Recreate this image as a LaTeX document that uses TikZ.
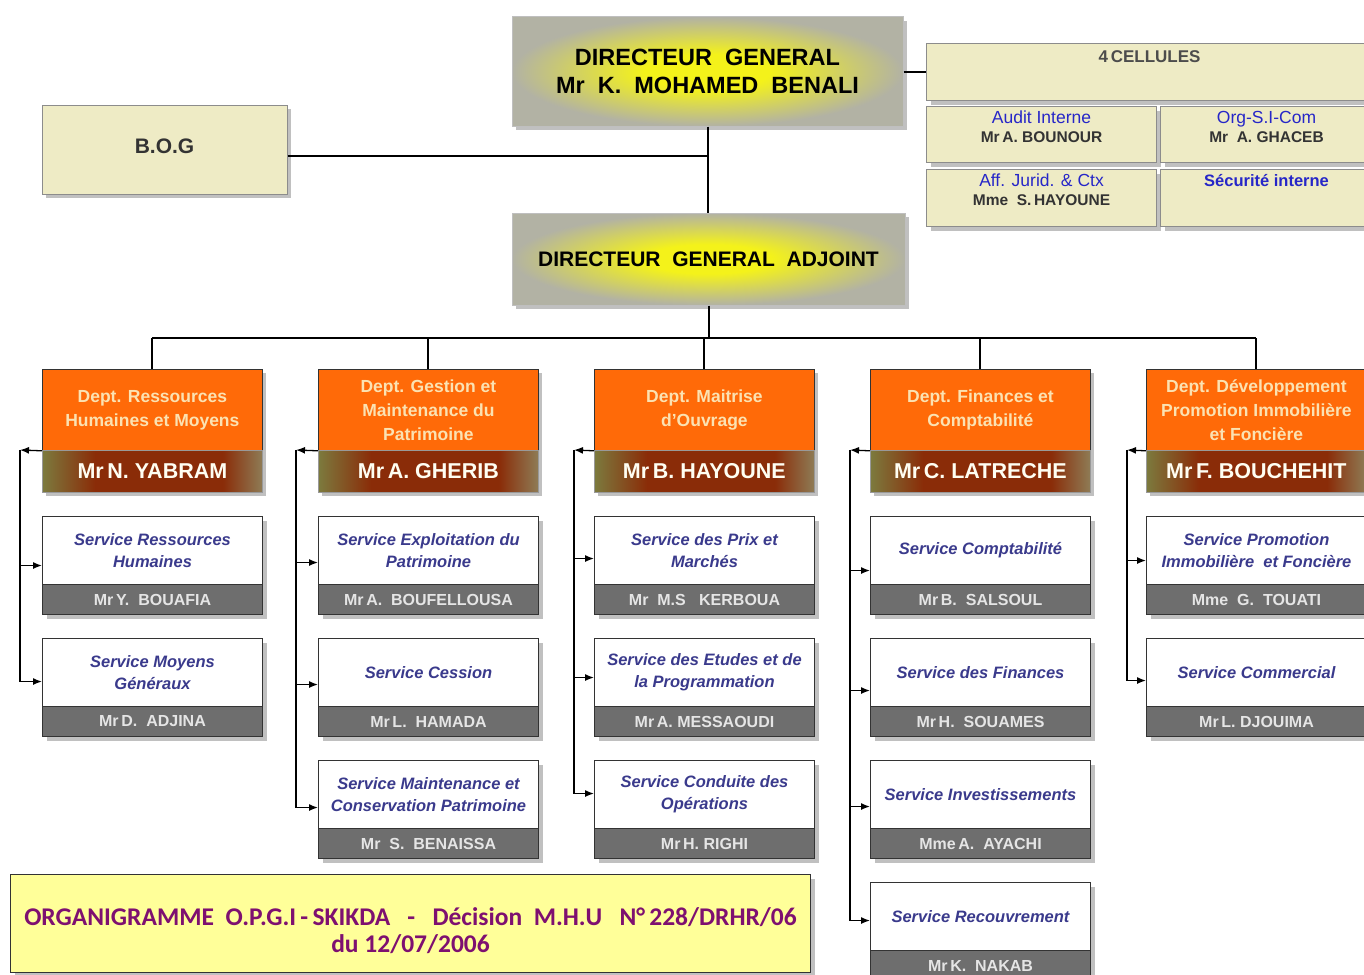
\documentclass[tikz,border=0pt]{standalone}
\usepackage{fontspec}
\setmainfont{Liberation Sans}
\newfontfamily\titlefont{Carlito}
\usetikzlibrary{shadows,arrows.meta}

\definecolor{dggray}{HTML}{B2B2A4}
\definecolor{beige}{HTML}{EEEBC5}
\definecolor{deptorange}{HTML}{FF6A08}
\definecolor{depttext}{HTML}{FBE2B2}
\definecolor{barolive}{HTML}{7C7A3E}
\definecolor{barbrown}{HTML}{8A2C08}
\definecolor{barright}{HTML}{8E7C56}
\definecolor{svcblue}{HTML}{3A3A8C}
\definecolor{svcgray}{HTML}{6E6E6E}
\definecolor{cellblue}{HTML}{2626C8}
\definecolor{titleyellow}{HTML}{FFFF99}
\definecolor{titlepurple}{HTML}{7E1070}
\definecolor{glowyellow}{HTML}{F4F21A}

% yellow glow in the middle of the management boxes
\pgfdeclareradialshading{mgmtglow}{\pgfpoint{0bp}{0bp}}{%
  color(0bp)=(glowyellow); color(8bp)=(glowyellow);
  color(25bp)=(dggray); color(50bp)=(dggray)}
% brown band with olive ends for department heads
\pgfdeclarehorizontalshading{headband}{100bp}{%
  color(0bp)=(barolive); color(25bp)=(barolive); color(37bp)=(barbrown);
  color(66bp)=(barbrown); color(75bp)=(barright); color(100bp)=(barright)}

% service box: white title part on top, grey head-of-service bar below
\newcommand\svc[5]{%
  \node[svcbox, anchor=north west] (#1) at (#2,#3) {#4};
  \node[svchead, anchor=north west] (#1h) at (#2,#3+68) {#5};
}
% feed arrow from a column's vertical line to a service box
\newcommand\feed[3]{\draw[feed] (#1) |- ([yshift=-#3pt]#2.west);}

\begin{document}
\begin{tikzpicture}[x=1pt,y=-1pt,
  shadowed/.style={drop shadow={shadow xshift=4pt,shadow yshift=-4pt,fill=black!35,opacity=0.7}},
  dgbox/.style={rectangle, draw=black!25, line width=1pt, shadowed,
    shading=mgmtglow, align=center,
    font=\bfseries\fontsize{23.5}{28}\selectfont},
  cellbox/.style={rectangle, draw=black!45, line width=1pt, fill=beige, shadowed},
  celllabel/.style={anchor=north, inner sep=0pt, align=center},
  dept/.style={rectangle, draw=black!80, line width=0.8pt, fill=deptorange,
    minimum width=220pt, minimum height=81pt, align=center, text=depttext,
    font=\bfseries\fontsize{17.5}{24}\selectfont, shadowed},
  deptname/.style={rectangle, draw=black!40, line width=0.8pt, shading=headband,
    minimum width=220pt, minimum height=42pt, text=white!95!yellow,
    font=\bfseries\fontsize{21.5}{24}\selectfont, shadowed},
  svcbox/.style={rectangle, draw=black!80, line width=1pt, fill=white,
    minimum width=220pt, minimum height=68pt, align=center, text=svcblue,
    font=\bfseries\itshape\fontsize{16.5}{22}\selectfont, shadowed},
  svchead/.style={rectangle, draw=black!80, line width=1pt, fill=svcgray,
    minimum width=220pt, minimum height=30pt, text=black!10,
    font=\bfseries\fontsize{16}{18}\selectfont, shadowed},
  link/.style={line width=2pt, black},
  feed/.style={line width=1.3pt, black, -{Latex[length=9pt,width=7pt]}},
  titlebox/.style={rectangle, draw=black!80, line width=1pt, fill=titleyellow, shadowed},
  titletext/.style={align=center, text=titlepurple, inner sep=0pt,
    font=\titlefont\bfseries\fontsize{25.5}{26.5}\selectfont}
]
\useasboundingbox (0,0) rectangle (1364,974);
\fill[white] (0,0) rectangle (1364,974);

% --- general management ---
\node[dgbox, minimum width=391pt, minimum height=109pt] (dg) at (707.5,71.5)
  {DIRECTEUR\ \ GENERAL\\Mr\ \ K.\ \ MOHAMED\ \ BENALI};
\node[dgbox, minimum width=393pt, minimum height=92pt, font=\bfseries\fontsize{21}{24}\selectfont] (dga) at (708.5,259)
  {DIRECTEUR\ \ GENERAL\ \ ADJOINT};
\node[cellbox, minimum width=245pt, minimum height=89pt,
  label={[text=black!80, font=\bfseries\fontsize{21}{24}\selectfont, yshift=3pt]center:B.O.G}]
  (bog) at (164.5,149.5) {};

% --- the four cells ---
\node[cellbox, anchor=north west, minimum width=446pt, minimum height=57pt,
  label={[celllabel, yshift=-7pt, text=black!70, font=\bfseries\fontsize{17}{19}\selectfont]north:4\,CELLULES}]
  (cel) at (926,43) {};
\node[cellbox, anchor=north west, minimum width=230pt, minimum height=56pt,
  label={[celllabel, yshift=-5pt, font=\fontsize{17.5}{19}\selectfont]north:{\color{cellblue}Audit Interne\\\bfseries\fontsize{15.5}{19}\selectfont\color{black!80}Mr\,A. BOUNOUR}}]
  (aud) at (926,106) {};
\node[cellbox, anchor=north west, minimum width=212pt, minimum height=56pt,
  label={[celllabel, yshift=-5pt, font=\fontsize{17.5}{19}\selectfont]north:{\color{cellblue}Org-S.I-Com\\\bfseries\fontsize{15.5}{19}\selectfont\color{black!80}Mr\ \ A. GHACEB}}]
  (org) at (1160,106) {};
\node[cellbox, anchor=north west, minimum width=230pt, minimum height=57pt,
  label={[celllabel, yshift=-5pt, font=\fontsize{17.5}{19}\selectfont]north:{\color{cellblue}Aff. Jurid. \& Ctx\\\bfseries\fontsize{15.5}{19}\selectfont\color{black!80}Mme\ \ S.\,HAYOUNE}}]
  (jur) at (926,169) {};
\node[cellbox, anchor=north west, minimum width=212pt, minimum height=57pt,
  label={[celllabel, yshift=-5pt, font=\bfseries\fontsize{16.5}{19}\selectfont, text=cellblue]north:Sécurité interne}]
  (sec) at (1160,169) {};

% --- departments ---
\node[dept, anchor=north west] (d1) at (42,369) {Dept. Ressources\\Humaines et Moyens};
\node[deptname, anchor=north west] (n1) at (42,450) {Mr\,N. YABRAM};
\node[dept, anchor=north west] (d2) at (318,369) {Dept. Gestion et\\Maintenance du\\Patrimoine};
\node[deptname, anchor=north west] (n2) at (318,450) {Mr\,A. GHERIB};
\node[dept, anchor=north west] (d3) at (594,369) {Dept. Maitrise\\d'Ouvrage};
\node[deptname, anchor=north west] (n3) at (594,450) {Mr\,B. HAYOUNE};
\node[dept, anchor=north west] (d4) at (870,369) {Dept. Finances et\\Comptabilité};
\node[deptname, anchor=north west] (n4) at (870,450) {Mr\,C. LATRECHE};
\node[dept, anchor=north west] (d5) at (1146,369) {Dept. Développement\\Promotion Immobilière\\et Foncière};
\node[deptname, anchor=north west] (n5) at (1146,450) {Mr\,F. BOUCHEHIT};

% --- services ---
\svc{s11}{42}{516}{Service Ressources\\Humaines}{Mr\,Y.\ \ BOUAFIA}
\svc{s12}{42}{638}{Service Moyens\\Généraux}{Mr\,D.\ \ ADJINA}
\svc{s21}{318}{516}{Service Exploitation du\\Patrimoine}{Mr\,A.\ \ BOUFELLOUSA}
\svc{s22}{318}{638}{Service Cession}{Mr\,L.\ \ HAMADA}
\svc{s23}{318}{760}{Service Maintenance et\\Conservation Patrimoine}{Mr\ \ S.\ \ BENAISSA}
\svc{s31}{594}{516}{Service des Prix et\\Marchés}{Mr\ \ M.S\ \ \ KERBOUA}
\svc{s32}{594}{638}{Service des Etudes et de\\la Programmation}{Mr\,A. MESSAOUDI}
\svc{s33}{594}{760}{Service Conduite des\\Opérations}{Mr\,H. RIGHI}
\svc{s41}{870}{516}{Service Comptabilité}{Mr\,B.\ \ SALSOUL}
\svc{s42}{870}{638}{Service des Finances}{Mr\,H.\ \ SOUAMES}
\svc{s43}{870}{760}{Service Investissements}{Mme\,A.\ \ AYACHI}
\svc{s44}{870}{882}{Service Recouvrement}{Mr\,K.\ \ NAKAB}
\svc{s51}{1146}{516}{Service Promotion\\Immobilière\ \ et Foncière}{Mme\ \ G.\ \ TOUATI}
\svc{s52}{1146}{638}{Service Commercial}{Mr\,L. DJOUIMA}

% --- title ---
\node[titlebox, anchor=north west, minimum width=800pt, minimum height=98pt,
  label={[titletext, yshift=-7pt]center:{ORGANIGRAMME\ \ O.P.G.I\,-\,SKIKDA\ \ \ -\ \ \ Décision\ \ M.H.U\ \ \ N°\,228/DRHR/06\\du 12/07/2006}}]
  (ttl) at (10,874) {};

% --- hierarchy links ---
\coordinate (bus) at (704,338);
\draw[link] (dg.east) -- (dg.east -| cel.west);
\draw[link] (dg.south) -- (dg.south |- dga.north);
\draw[link] ([yshift=-6pt]bog.east) -- ([yshift=-6pt]bog.east -| dg.south);
\draw[link] (dga.south) -- (dga.south |- bus);
\draw[link] (d1.north |- bus) -- (d5.north |- bus);
\foreach \d in {d1,d2,d3,d4,d5} \draw[link] (\d.north) -- (\d.north |- bus);

% --- department to service feeds ---
\coordinate (v1) at (20,450);
\coordinate (v2) at (296,450);
\coordinate (v3) at (574,450);
\coordinate (v4) at (850,450);
\coordinate (v5) at (1127,450);
\foreach \i in {1,...,5} \draw[feed] (d\i.south west) -- (v\i);
\feed{v1}{s11}{15}\feed{v1}{s12}{9}
\feed{v2}{s21}{12}\feed{v2}{s22}{12}\feed{v2}{s23}{13}
\feed{v3}{s31}{8}\feed{v3}{s32}{5}\feed{v3}{s33}{-1}
\feed{v4}{s41}{20}\feed{v4}{s42}{18}\feed{v4}{s43}{12}\feed{v4}{s44}{4}
\feed{v5}{s51}{10}\feed{v5}{s52}{8}
\end{tikzpicture}
\end{document}
